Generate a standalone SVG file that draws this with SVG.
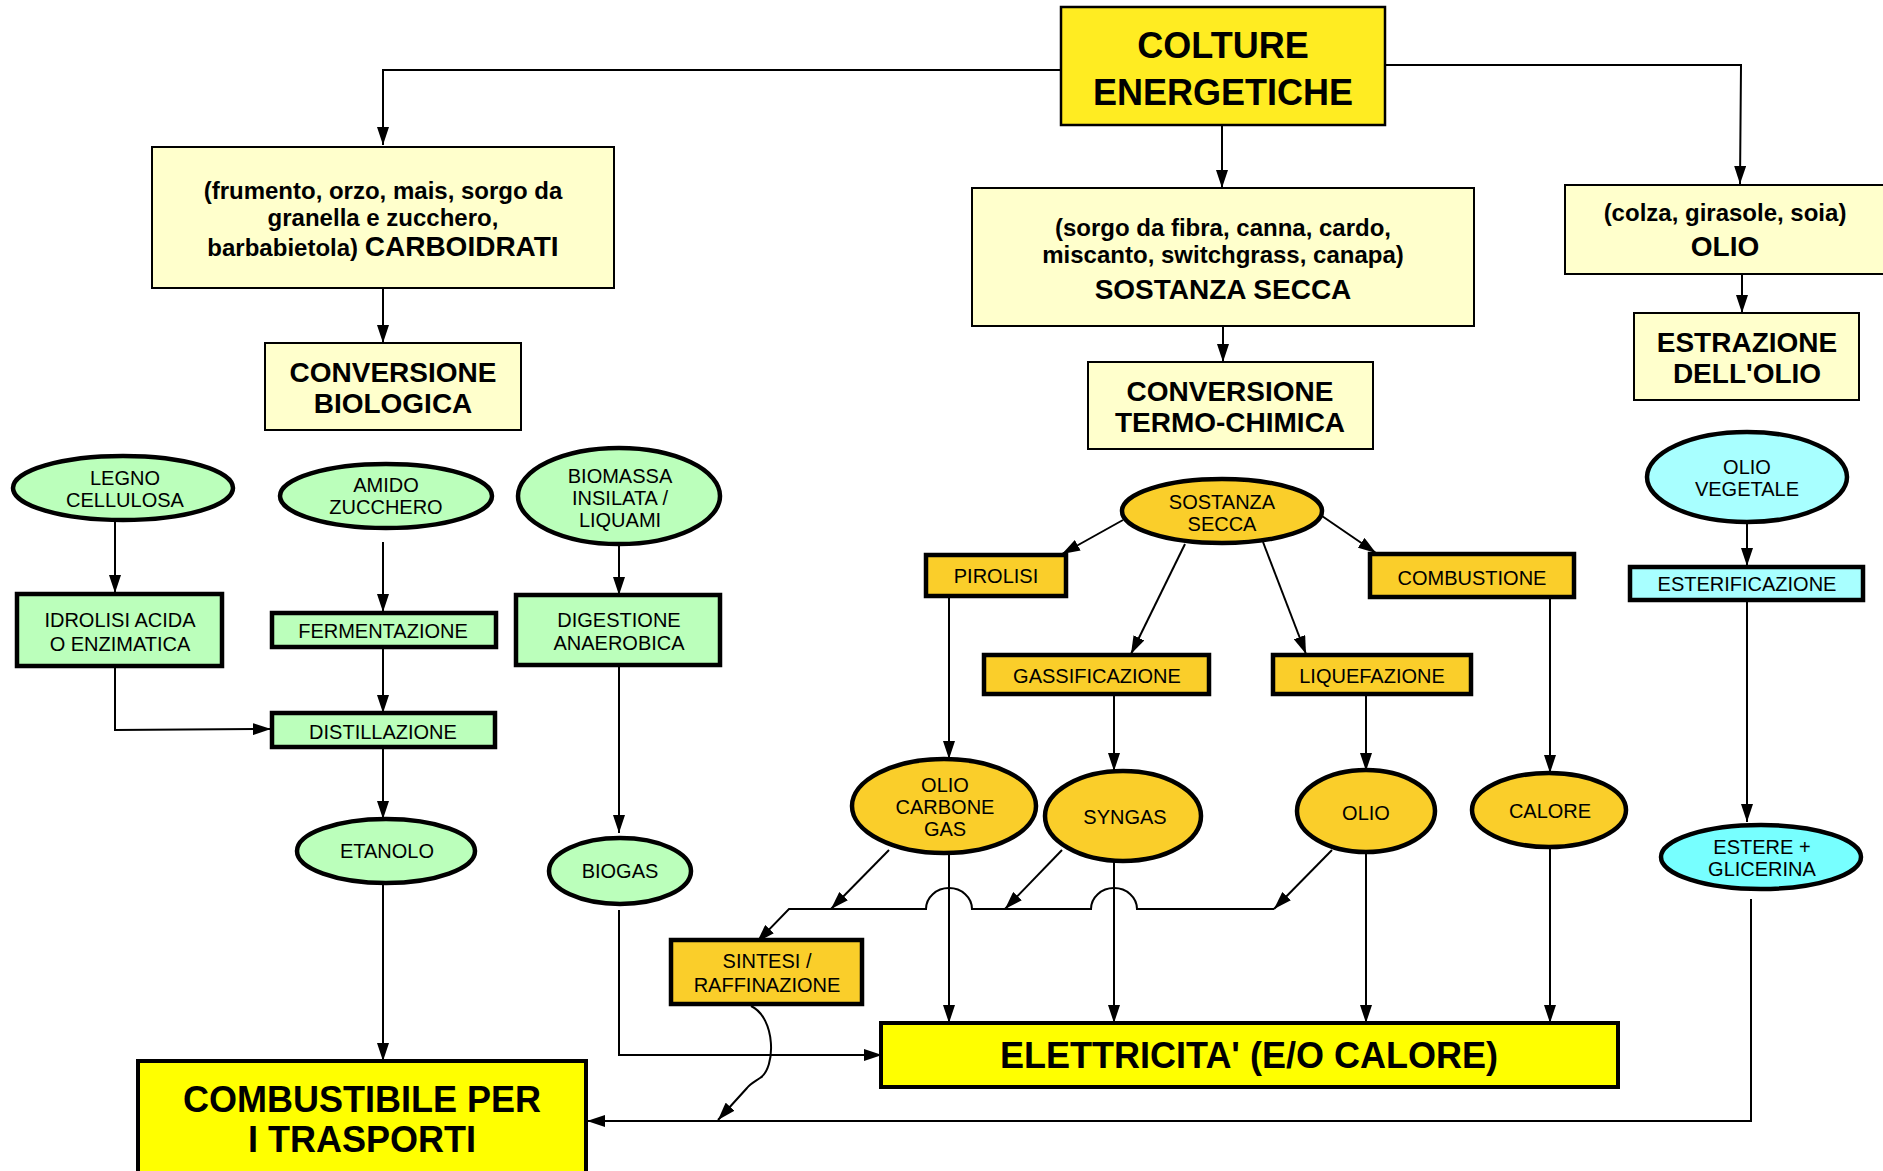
<svg xmlns="http://www.w3.org/2000/svg" width="1883" height="1171" viewBox="0 0 1883 1171">
<defs>
<marker id="arr" markerUnits="userSpaceOnUse" markerWidth="18" markerHeight="12" refX="18" refY="6" orient="auto">
<path d="M0,0 L18,6 L0,12 z" fill="#000"/>
</marker>
<style>
text{font-family:"Liberation Sans",Arial,sans-serif;fill:#000;text-anchor:middle}
.b{font-weight:bold}
.s{font-size:20px}
.m{font-size:24px;font-weight:bold}
.l{font-size:28px;font-weight:bold}
.xl{font-size:36px;font-weight:bold}
.pale{fill:#FFFFCC;stroke:#000;stroke-width:2}
.grn{fill:#BBFFBB;stroke:#000;stroke-width:4.5}
.org{fill:#FACE2A;stroke:#000;stroke-width:4.5}
.cy{fill:#A8FFFF;stroke:#000;stroke-width:4.5}
.cy2{fill:#77FFFF;stroke:#000;stroke-width:4.5}
.yel{fill:#FFFF00;stroke:#000;stroke-width:4}
.c{fill:none;stroke:#000;stroke-width:2}
.a{marker-end:url(#arr)}
</style>
</defs>
<rect width="1883" height="1171" fill="#fff"/>

<g id="connectors">
<polyline class="c a" points="1061,70 383,70 383,145"/>
<line class="c a" x1="1222" y1="125" x2="1222" y2="188"/>
<polyline class="c a" points="1385,65 1741,65 1740,184"/>
<line class="c a" x1="383" y1="288" x2="383" y2="343"/>
<line class="c a" x1="1223" y1="326" x2="1223" y2="362"/>
<line class="c a" x1="1742" y1="270" x2="1742" y2="313"/>
<line class="c a" x1="115" y1="520" x2="115" y2="593"/>
<line class="c a" x1="383" y1="542" x2="383" y2="612"/>
<line class="c a" x1="619" y1="544" x2="619" y2="595"/>
<line class="c a" x1="383" y1="647" x2="383" y2="713"/>
<polyline class="c a" points="115,666 115,730 271,729"/>
<line class="c a" x1="383" y1="747" x2="383" y2="819"/>
<line class="c a" x1="383" y1="883" x2="383" y2="1061"/>
<line class="c a" x1="619" y1="665" x2="619" y2="833"/>
<polyline class="c a" points="619,910 619,1055 882,1055"/>
<line class="c a" x1="1123" y1="520" x2="1062" y2="554"/>
<line class="c a" x1="1185" y1="544" x2="1131" y2="654"/>
<line class="c a" x1="1263" y1="542" x2="1306" y2="654"/>
<line class="c a" x1="1322" y1="516" x2="1376" y2="553"/>
<line class="c a" x1="949" y1="596" x2="949" y2="759"/>
<line class="c a" x1="1114" y1="694" x2="1114" y2="771"/>
<line class="c a" x1="1366" y1="694" x2="1366" y2="771"/>
<line class="c a" x1="1550" y1="597" x2="1550" y2="773"/>
<line class="c a" x1="1747" y1="522" x2="1747" y2="566"/>
<line class="c a" x1="1747" y1="600" x2="1747" y2="822"/>
<line class="c a" x1="949" y1="854" x2="949" y2="1023"/>
<line class="c a" x1="1114" y1="862" x2="1114" y2="1023"/>
<line class="c a" x1="1366" y1="852" x2="1366" y2="1023"/>
<line class="c a" x1="1550" y1="847" x2="1550" y2="1023"/>
<line class="c a" x1="889" y1="850" x2="831" y2="909"/>
<line class="c a" x1="1062" y1="850" x2="1005" y2="909"/>
<line class="c a" x1="1332" y1="850" x2="1274" y2="909"/>
<path class="c a" d="M1274,909 L1137,909 A23,21 0 0 0 1091,909 L972,909 A23,21 0 0 0 926,909 L789,909 L757,942"/>
<path class="c a" d="M751,1006 C776,1018 776,1068 760,1078 C754,1082 750,1084 747,1088 L718,1120"/>
<polyline class="c a" points="1751,899 1751,1121 587,1121"/>
</g>

<g id="colture"><rect x="1061" y="7" width="324" height="118" fill="#FFEC22" stroke="#000" stroke-width="2.5"/>
<text class="xl" x="1223" y="58">COLTURE</text><text class="xl" x="1223" y="105">ENERGETICHE</text></g>

<g id="carboidrati"><rect class="pale" x="152" y="147" width="462" height="141"/>
<text class="m" x="383" y="199">(frumento, orzo, mais, sorgo da</text>
<text class="m" x="383" y="226">granella e zucchero,</text>
<text x="383" y="256"><tspan class="m">barbabietola) </tspan><tspan class="l">CARBOIDRATI</tspan></text></g>

<g id="conv-bio"><rect class="pale" x="265" y="343" width="256" height="87"/>
<text class="l" x="393" y="382">CONVERSIONE</text><text class="l" x="393" y="413">BIOLOGICA</text></g>

<g id="sostanza-box"><rect class="pale" x="972" y="188" width="502" height="138"/>
<text class="m" x="1223" y="236">(sorgo da fibra, canna, cardo,</text>
<text class="m" x="1223" y="263">miscanto, switchgrass, canapa)</text>
<text class="l" x="1223" y="299">SOSTANZA SECCA</text></g>

<g id="conv-tc"><rect class="pale" x="1088" y="362" width="285" height="87"/>
<text class="l" x="1230" y="401">CONVERSIONE</text><text class="l" x="1230" y="432">TERMO-CHIMICA</text></g>

<g id="olio-box"><rect class="pale" x="1565" y="185" width="330" height="89"/>
<text class="m" x="1725" y="221">(colza, girasole, soia)</text><text class="l" x="1725" y="256">OLIO</text></g>

<g id="estrazione"><rect class="pale" x="1634" y="313" width="225" height="87"/>
<text class="l" x="1747" y="352">ESTRAZIONE</text><text class="l" x="1747" y="383">DELL'OLIO</text></g>

<g id="legno"><ellipse class="grn" cx="123" cy="488" rx="110" ry="32"/>
<text class="s" x="125" y="485">LEGNO</text><text class="s" x="125" y="507">CELLULOSA</text></g>

<g id="amido"><ellipse class="grn" cx="386" cy="496" rx="106" ry="32"/>
<text class="s" x="386" y="492">AMIDO</text><text class="s" x="386" y="514">ZUCCHERO</text></g>

<g id="biomassa"><ellipse class="grn" cx="619" cy="496" rx="101" ry="48"/>
<text class="s" x="620" y="483">BIOMASSA</text><text class="s" x="620" y="505">INSILATA /</text><text class="s" x="620" y="527">LIQUAMI</text></g>

<g id="idrolisi"><rect class="grn" x="17" y="594" width="205" height="72"/>
<text class="s" x="120" y="627">IDROLISI ACIDA</text><text class="s" x="120" y="651">O ENZIMATICA</text></g>

<g id="fermentazione"><rect class="grn" x="272" y="613" width="224" height="34"/>
<text class="s" x="383" y="638">FERMENTAZIONE</text></g>

<g id="digestione"><rect class="grn" x="516" y="595" width="204" height="70"/>
<text class="s" x="619" y="627">DIGESTIONE</text><text class="s" x="619" y="650">ANAEROBICA</text></g>

<g id="distillazione"><rect class="grn" x="272" y="713" width="223" height="34"/>
<text class="s" x="383" y="739">DISTILLAZIONE</text></g>

<g id="etanolo"><ellipse class="grn" cx="386" cy="851" rx="89" ry="32"/>
<text class="s" x="387" y="858">ETANOLO</text></g>

<g id="biogas"><ellipse class="grn" cx="620" cy="871" rx="71" ry="33"/>
<text class="s" x="620" y="878">BIOGAS</text></g>

<g id="combustibile"><rect class="yel" x="138" y="1061" width="448" height="130"/>
<text class="xl" x="362" y="1112">COMBUSTIBILE PER</text><text class="xl" x="362" y="1152">I TRASPORTI</text></g>

<g id="sostanza-ell"><ellipse class="org" cx="1222" cy="511" rx="100" ry="32"/>
<text class="s" x="1222" y="509">SOSTANZA</text><text class="s" x="1222" y="531">SECCA</text></g>

<g id="pirolisi"><rect class="org" x="926" y="555" width="140" height="41"/>
<text class="s" x="996" y="583">PIROLISI</text></g>

<g id="combustione"><rect class="org" x="1370" y="554" width="204" height="43"/>
<text class="s" x="1472" y="585">COMBUSTIONE</text></g>

<g id="gassificazione"><rect class="org" x="984" y="655" width="225" height="39"/>
<text class="s" x="1097" y="683">GASSIFICAZIONE</text></g>

<g id="liquefazione"><rect class="org" x="1273" y="655" width="198" height="39"/>
<text class="s" x="1372" y="683">LIQUEFAZIONE</text></g>

<g id="ocg"><ellipse class="org" cx="944" cy="806" rx="92" ry="47"/>
<text class="s" x="945" y="792">OLIO</text><text class="s" x="945" y="814">CARBONE</text><text class="s" x="945" y="836">GAS</text></g>

<g id="syngas"><ellipse class="org" cx="1123" cy="816" rx="78" ry="45"/>
<text class="s" x="1125" y="824">SYNGAS</text></g>

<g id="olio-ell"><ellipse class="org" cx="1366" cy="811" rx="69" ry="41"/>
<text class="s" x="1366" y="820">OLIO</text></g>

<g id="calore"><ellipse class="org" cx="1549" cy="810" rx="77" ry="37"/>
<text class="s" x="1550" y="818">CALORE</text></g>

<g id="sintesi"><rect class="org" x="671" y="940" width="191" height="64"/>
<text class="s" x="767" y="968">SINTESI /</text><text class="s" x="767" y="992">RAFFINAZIONE</text></g>

<g id="elettricita"><rect class="yel" x="881" y="1023" width="737" height="64"/>
<text class="xl" x="1249" y="1068">ELETTRICITA' (E/O CALORE)</text></g>

<g id="olio-vegetale"><ellipse class="cy" cx="1747" cy="477" rx="100" ry="45"/>
<text class="s" x="1747" y="474">OLIO</text><text class="s" x="1747" y="496">VEGETALE</text></g>

<g id="esterificazione"><rect class="cy" x="1630" y="567" width="233" height="33"/>
<text class="s" x="1747" y="591">ESTERIFICAZIONE</text></g>

<g id="estere"><ellipse class="cy2" cx="1761" cy="857" rx="100" ry="32"/>
<text class="s" x="1762" y="854">ESTERE +</text><text class="s" x="1762" y="876">GLICERINA</text></g>
</svg>
